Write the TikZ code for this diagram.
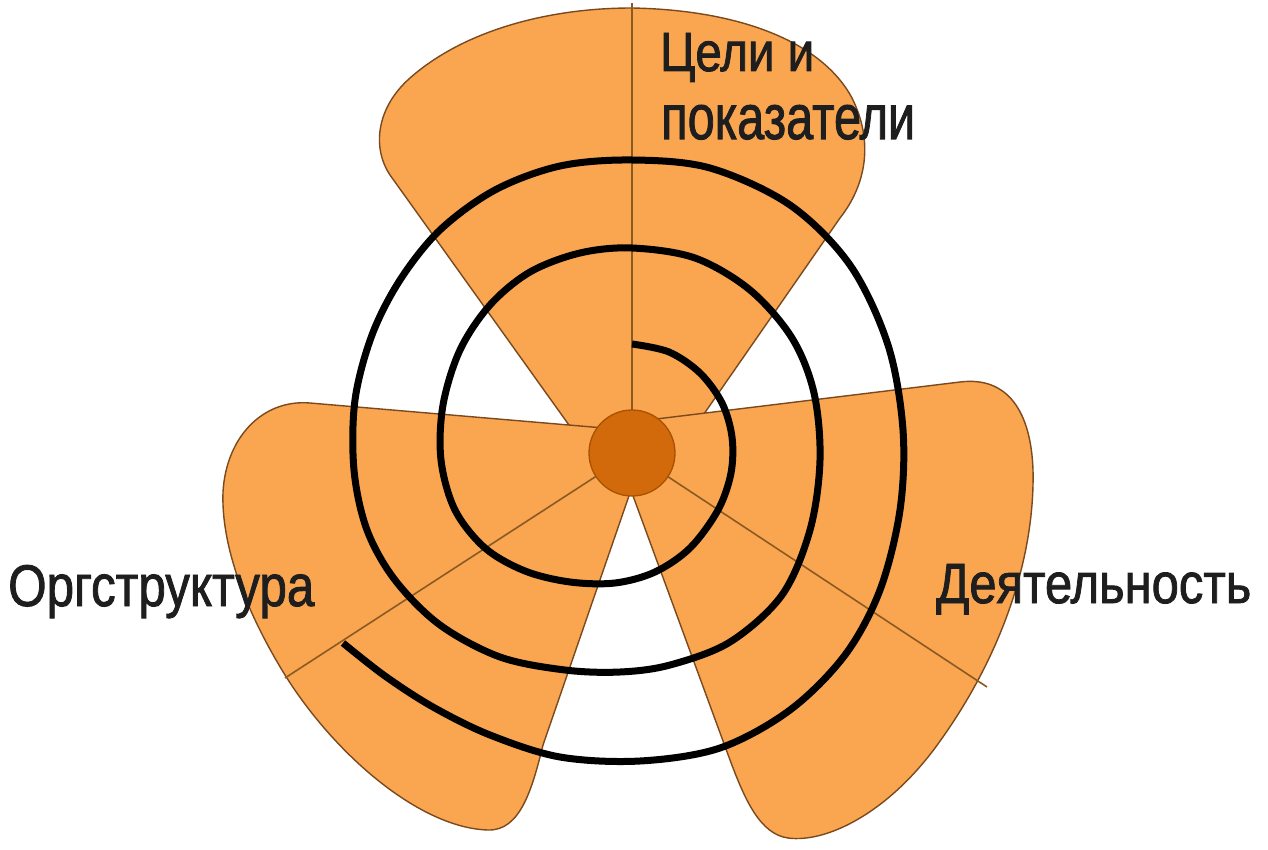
\documentclass[tikz,border=0pt]{standalone}
\usepackage{fontspec}
\setmainfont{Liberation Sans}
\newfontfamily\lblfont[FakeBold=1.6]{Liberation Sans}
\usepackage{graphicx}
\definecolor{petal}{HTML}{FAA550}
\definecolor{petaledge}{HTML}{7A4A1E}
\definecolor{raycol}{HTML}{8A5A22}
\definecolor{hubfill}{HTML}{D2690A}
\definecolor{hubedge}{HTML}{A85200}
\definecolor{txt}{HTML}{1E1E1E}
\begin{document}
\begin{tikzpicture}[x=1pt,y=-1pt,
  petalshape/.style={fill=petal,draw=petaledge,line width=1.4pt,line join=round},
  raystyle/.style={draw=raycol,line width=1.6pt},
  spiralstyle/.style={draw=black,line width=7pt},
  txtlabel/.style={anchor=base west,inner sep=0pt,text=txt,font=\lblfont}]
\useasboundingbox (0,0) rectangle (1268,850);
\coordinate (c) at (632,453);
\coordinate (topend) at (632,3);
\coordinate (llend) at (285,678);
\coordinate (lrend) at (987,687);
% top petal
\path[petalshape] (634,478) -- (594,460) -- (390,175)
  .. controls (372,148) and (376,108) .. (410,78)
  .. controls (462,32) and (545,8) .. (632,8)
  .. controls (740,10) and (822,42) .. (852,98)
  .. controls (874,142) and (866,185) .. (840,218)
  -- (672,460) -- cycle;
% lower-left petal
\path[petalshape] (651,432) -- (310,403)
  .. controls (262,399) and (226,438) .. (223,492)
  .. controls (221,545) and (245,610) .. (285,675)
  .. controls (335,755) and (420,828) .. (488,830)
  .. controls (520,831) and (532,790) .. (543,745)
  -- cycle;
% lower-right petal
\path[petalshape] (607,425) -- (960,382)
  .. controls (1008,376) and (1031,412) .. (1033,470)
  .. controls (1035,560) and (1000,660) .. (935,748)
  .. controls (885,815) and (825,843) .. (788,838)
  .. controls (760,834) and (745,800) .. (730,760)
  -- cycle;
% rays
\draw[raystyle] (topend) -- (c);
\draw[raystyle] (c) -- (llend);
\draw[raystyle] (c) -- (lrend);
% spiral
\draw[spiralstyle] plot[smooth, tension=0.55] coordinates {
 (632,344) (669,352) (700,373) (722,403) (732,437) (731,473) (718,510) (690,548)
 (655,572) (615,583) (570,582) (525,571) (485,548) (455,510) (441,460)
 (443,405) (460,350) (490,305) (530,272) (580,253) (632,248) (695,258)
 (750,290) (792,338) (814,393) (820,460) (810,530) (782,595) (730,642)
 (670,665) (620,672) (565,670) (500,657) (440,625) (395,580) (367,530)
 (354,470) (355,400) (372,335) (400,280) (440,230) (495,190) (560,166)
 (632,160) (710,168) (790,205) (850,265) (888,345) (903,430) (900,510)
 (880,590) (845,655) (790,710) (720,748) (640,761) (560,757) (490,735)
 (433,707) (385,676) (343,643)};
% hub
\node[circle,fill=hubfill,draw=hubedge,line width=1.3pt,minimum size=86pt,inner sep=0pt] (hub) at (c) {};
% labels
\node[txtlabel] (goals1) at (660,71) {\resizebox{154pt}{38pt}{Цели и}};
\node[txtlabel] (goals2) at (661,139) {\resizebox{254pt}{34pt}{показатели}};
\node[txtlabel] (org) at (8,606) {\resizebox{306pt}{41pt}{Оргструктура}};
\node[txtlabel] (act) at (936,603) {\resizebox{315pt}{39pt}{Деятельность}};
\end{tikzpicture}
\end{document}
